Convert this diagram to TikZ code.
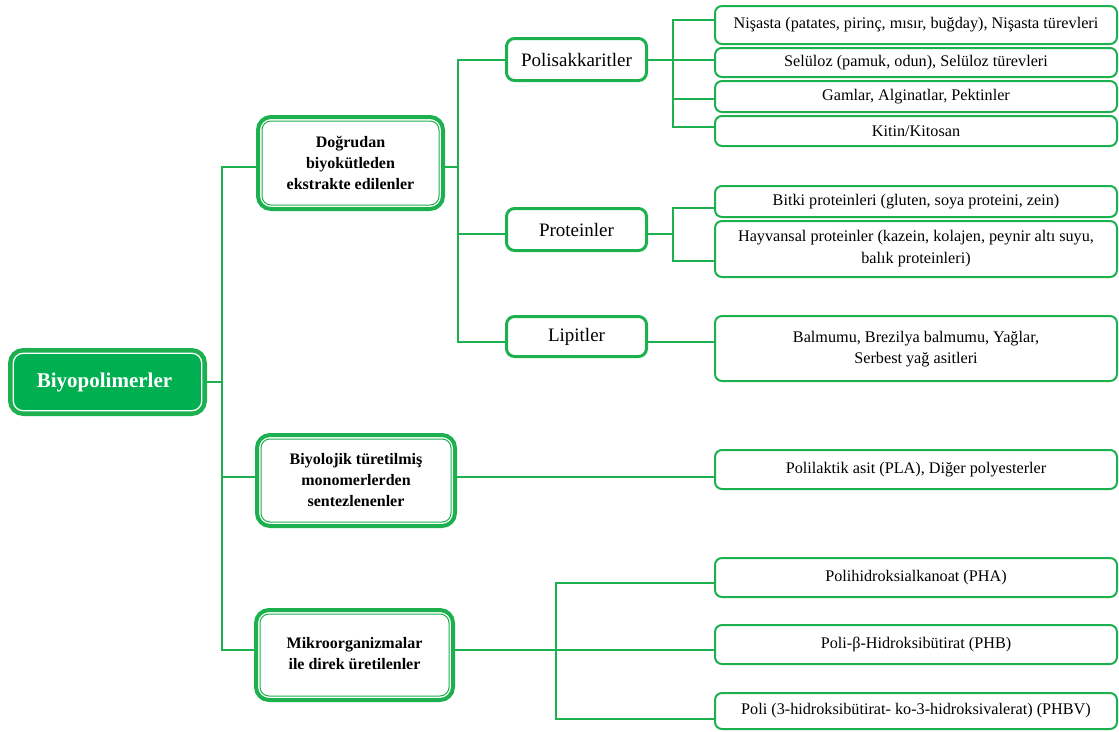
\documentclass[tikz,border=0pt]{standalone}
\usepackage{fontspec}
\setmainfont{Liberation Serif}
\usetikzlibrary{calc}
\definecolor{gr}{HTML}{1DB04F}
\definecolor{gfill}{HTML}{00B050}
\begin{document}
\begin{tikzpicture}[x=1pt,y=-1pt,
  leaf/.style={draw=gr, line width=2pt, rounded corners=7pt, fill=white, inner sep=0pt, outer sep=0pt,
    minimum width=402pt, align=center, font=\fontsize{16.2}{22}\selectfont},
  midbox/.style={draw=gr, line width=3pt, rounded corners=8pt, fill=white, inner sep=0pt, outer sep=0pt,
    minimum width=140pt, font=\fontsize{19}{22}\selectfont},
  topbox/.style={draw=gr, line width=4pt, rounded corners=13pt, fill=white, inner sep=0pt, outer sep=0pt,
    align=center, font=\bfseries\fontsize{16}{21}\selectfont},
  rootbox/.style={draw=gr, fill=gfill, line width=4.5pt, rounded corners=13pt, inner sep=0pt, outer sep=0pt,
    text=white, font=\bfseries\fontsize{21}{24}\selectfont},
  innerline/.style={draw=gr, line width=1pt, rounded corners=9pt},
  innerwhite/.style={draw=white, line width=1.3pt, rounded corners=10pt},
  conn/.style={draw=gr, line width=2.5pt},
]
\useasboundingbox (0,0) rectangle (1119,731);

% root
\node[rootbox, minimum width=194.5pt, minimum height=63.5pt] (root) at (107.5,382) {\hspace*{-6pt}Biyopolimerler};
\draw[innerwhite] ([xshift=3pt,yshift=-3pt]root.north west) rectangle ([xshift=-3pt,yshift=3pt]root.south east);

% level 1
\node[topbox, minimum width=185pt, minimum height=92pt] (dog) at (350.5,163) {Doğrudan\\biyokütleden\\ekstrakte edilenler};
\node[topbox, minimum width=198pt, minimum height=91pt] (biy) at (356,480.5) {Biyolojik türetilmiş\\monomerlerden\\sentezlenenler};
\node[topbox, minimum width=197pt, minimum height=90pt] (mik) at (354.5,655) {\raisebox{4pt}{\begin{tabular}{@{}c@{}}Mikroorganizmalar\\ile direk  üretilenler\end{tabular}}};
\foreach \n in {dog,biy,mik}{
  \draw[innerline] ([xshift=4pt,yshift=-4pt]\n.north west) rectangle ([xshift=-4pt,yshift=4pt]\n.south east);
}

% level 2
\node[midbox, minimum height=42pt] (poly) at (576.5,59.5) {Polisakkaritler};
\node[midbox, minimum height=42pt] (prot) at (576.5,229.5) {Proteinler};
\node[midbox, minimum height=40pt] (lip) at (576.5,336.5) {Lipitler};

% leaves
\node[leaf, minimum height=38pt] (n1) at (916,25) {Nişasta (patates, pirinç, mısır, buğday), Nişasta türevleri};
\node[leaf, minimum height=29pt] (n2) at (916,62.5) {Selüloz (pamuk, odun), Selüloz türevleri};
\node[leaf, minimum height=31pt] (n3) at (916,96.5) {Gamlar, Alginatlar,  Pektinler};
\node[leaf, minimum height=30pt] (n4) at (916,131) {Kitin/Kitosan};
\node[leaf, minimum height=31pt] (bit) at (916,201.5) {Bitki proteinleri  (gluten,  soya proteini,  zein)};
\node[leaf, minimum height=56pt] (hay) at (916,249) {Hayvansal proteinler  (kazein,  kolajen,  peynir altı suyu,\\balık proteinleri)};
\node[leaf, minimum height=65pt] (bal) at (916,348.5) {\raisebox{4pt}{\begin{tabular}{@{}c@{}}Balmumu, Brezilya  balmumu,  Yağlar,\\[-0.5pt]Serbest yağ asitleri\end{tabular}}};
\node[leaf, minimum height=39pt] (pla) at (916,469.5) {\raisebox{4pt}{Polilaktik  asit  (PLA), Diğer  polyesterler}};
\node[leaf, minimum height=39pt] (pha) at (916,577.5) {\raisebox{4pt}{Polihidroksialkanoat  (PHA)}};
\node[leaf, minimum height=39pt] (phb) at (916,644.5) {\raisebox{2pt}{Poli-β-Hidroksibütirat  (PHB)}};
\node[leaf, minimum height=36pt] (phbv) at (916,711) {Poli (3-hidroksibütirat-  ko-3-hidroksivalerat)  (PHBV)};

% junction coordinates
\coordinate (T1) at (222,383);
\coordinate (T2) at (458,167);
\coordinate (T3) at (673,60);
\coordinate (T4) at (673,234);
\coordinate (T5) at (556,650);

% entry points
\coordinate (dogin) at ([yshift=-4pt]dog.west);
\coordinate (dogout) at ([yshift=-4pt]dog.east);
\coordinate (biyin) at ([yshift=3.5pt]biy.west);
\coordinate (biyout) at ([yshift=3.5pt]biy.east);
\coordinate (mikin) at ([yshift=5pt]mik.west);
\coordinate (mikout) at ([yshift=5pt]mik.east);
\coordinate (polyin) at ([yshift=-0.5pt]poly.west);
\coordinate (polyout) at ([yshift=-0.5pt]poly.east);
\coordinate (protin) at ([yshift=-4.5pt]prot.west);
\coordinate (protout) at ([yshift=-4.5pt]prot.east);
\coordinate (lipin) at ([yshift=-5.5pt]lip.west);
\coordinate (lipout) at ([yshift=-5.5pt]lip.east);
\coordinate (n1in) at ([yshift=5pt]n1.west);
\coordinate (n2in) at ([yshift=2.5pt]n2.west);
\coordinate (n3in) at ([yshift=-2.5pt]n3.west);
\coordinate (n4in) at ([yshift=4pt]n4.west);
\coordinate (bitin) at ([yshift=-6.5pt]bit.west);
\coordinate (hayin) at ([yshift=-12pt]hay.west);
\coordinate (balin) at ([yshift=6.5pt]bal.west);
\coordinate (plain) at ([yshift=-7.5pt]pla.west);
\coordinate (phain) at ([yshift=-5.5pt]pha.west);
\coordinate (phbin) at ([yshift=-5.5pt]phb.west);
\coordinate (phbvin) at ([yshift=-8pt]phbv.west);

% connectors
\draw[conn] (root.east) -- (root.east -| T1);
\draw[conn] (dogin) -| (T1) |- (mikin);
\draw[conn] (T1 |- biyin) -- (biyin);

\draw[conn] (dogout) -- (T2);
\draw[conn] (polyin) -| (T2) |- (lipin);
\draw[conn] (T2 |- protin) -- (protin);

\draw[conn] (polyout) -- (T3);
\draw[conn] (n1in) -| (T3) |- (n4in);
\draw[conn] (T3 |- n2in) -- (n2in);
\draw[conn] (T3 |- n3in) -- (n3in);

\draw[conn] (protout) -- (T4);
\draw[conn] (bitin) -| (T4) |- (hayin);

\draw[conn] (lipout) -- (balin);
\draw[conn] (biyout) -- (plain);

\draw[conn] (mikout) -- (T5);
\draw[conn] (phain) -| (T5) |- (phbvin);
\draw[conn] (T5 |- phbin) -- (phbin);
\end{tikzpicture}
\end{document}
